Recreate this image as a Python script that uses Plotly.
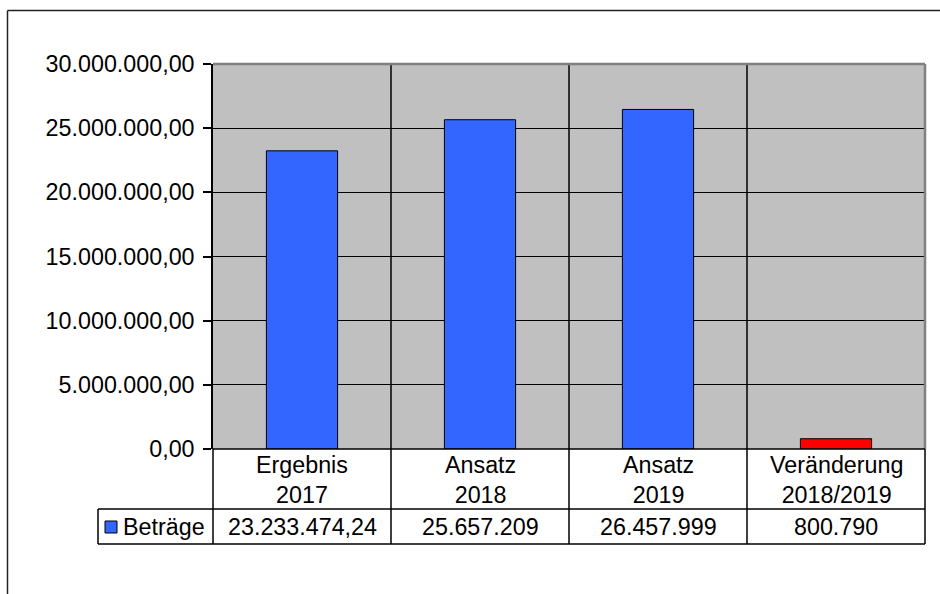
import plotly.graph_objects as go

# Chart data
categories = ["Ergebnis<br>2017", "Ansatz<br>2018", "Ansatz<br>2019", "Veränderung<br>2018/2019"]
betraege = [23233474.24, 25657209, 26457999, 800790]
bar_colors = ["#3366FF", "#3366FF", "#3366FF", "#FF0000"]
series_name = "Beträge"
y_ticks = [0, 5000000, 10000000, 15000000, 20000000, 25000000, 30000000]

W, H = 940, 594
ML, MR, MT, MB = 213, 15, 64, 145
PW = W - ML - MR
PH = H - MT - MB
FONT = "Liberation Sans, Arial, sans-serif"
FS = 23.3


def px2x(px):
    return (px - ML) / PW


def px2y(py):
    return (H - MB - py) / PH


def de_format(v):
    if abs(v - round(v)) > 1e-9:
        s = f"{v:,.2f}"
    else:
        s = f"{int(round(v)):,}"
    return s.replace(",", "X").replace(".", ",").replace("X", ".")


xs = list(range(len(categories)))

fig = go.Figure()
fig.add_trace(go.Bar(
    x=xs, y=betraege, width=0.4, name=series_name,
    marker=dict(color=bar_colors, line=dict(color="black", width=1)),
    showlegend=False, hoverinfo="skip",
))

row_sep = px2y(509)
table_bottom = px2y(544)
legend_left = px2x(98)

shapes = []
# category separators running through plot and table
for i in range(1, len(categories)):
    xb = i - 0.5
    shapes.append(dict(type="line", xref="x", yref="paper", x0=xb, x1=xb,
                       y0=table_bottom, y1=1, line=dict(color="black", width=1.5)))
# plot frame (gray top/right)
shapes.append(dict(type="line", xref="paper", yref="paper", x0=0, x1=1, y0=1, y1=1,
                   line=dict(color="#808080", width=2.5)))
shapes.append(dict(type="line", xref="paper", yref="paper", x0=1, x1=1, y0=0, y1=1,
                   line=dict(color="#808080", width=2.5)))
# table lines
shapes.append(dict(type="line", xref="paper", yref="paper", x0=0, x1=1, y0=0, y1=0,
                   line=dict(color="black", width=1.5)))
shapes.append(dict(type="line", xref="paper", yref="paper", x0=legend_left, x1=1, y0=row_sep, y1=row_sep,
                   line=dict(color="black", width=1.5)))
shapes.append(dict(type="line", xref="paper", yref="paper", x0=legend_left, x1=1, y0=table_bottom, y1=table_bottom,
                   line=dict(color="black", width=1.5)))
shapes.append(dict(type="line", xref="paper", yref="paper", x0=legend_left, x1=legend_left, y0=table_bottom, y1=row_sep,
                   line=dict(color="black", width=1.5)))
shapes.append(dict(type="line", xref="paper", yref="paper", x0=0, x1=0, y0=table_bottom, y1=0,
                   line=dict(color="black", width=1.5)))
shapes.append(dict(type="line", xref="paper", yref="paper", x0=1, x1=1, y0=table_bottom, y1=0,
                   line=dict(color="black", width=1.5)))
# legend key
shapes.append(dict(type="rect", xref="paper", yref="paper",
                   x0=px2x(105), x1=px2x(117), y0=px2y(533), y1=px2y(521),
                   fillcolor=bar_colors[0], line=dict(color="black", width=1)))
# outer chart border (top / left)
shapes.append(dict(type="line", xref="paper", yref="paper", x0=px2x(7.5), x1=px2x(945),
                   y0=px2y(10.5), y1=px2y(10.5), line=dict(color="#222", width=1.5)))
shapes.append(dict(type="line", xref="paper", yref="paper", x0=px2x(7.5), x1=px2x(7.5),
                   y0=px2y(600), y1=px2y(10.5), line=dict(color="#222", width=1.5)))

annotations = []
for i, (cat, val) in enumerate(zip(categories, betraege)):
    annotations.append(dict(x=i, y=px2y(480), xref="x", yref="paper", text=cat,
                            showarrow=False, font=dict(size=FS, color="black", family=FONT),
                            xanchor="center", yanchor="middle", align="center"))
    annotations.append(dict(x=i, y=px2y(527), xref="x", yref="paper", text=de_format(val),
                            showarrow=False, font=dict(size=FS, color="black", family=FONT),
                            xanchor="center", yanchor="middle"))
annotations.append(dict(x=px2x(121), y=px2y(527), xref="paper", yref="paper", text=series_name,
                        showarrow=False, font=dict(size=FS, color="black", family=FONT),
                        xanchor="left", yanchor="middle"))

fig.update_layout(
    width=W, height=H,
    margin=dict(l=ML, r=MR, t=MT, b=MB),
    paper_bgcolor="white", plot_bgcolor="#C0C0C0",
    separators=",.",
    font=dict(family=FONT, size=FS, color="black"),
    bargap=0.6,
    shapes=shapes, annotations=annotations,
    xaxis=dict(range=[-0.5, len(categories) - 0.5], showticklabels=False, showgrid=False,
               zeroline=False, showline=False, ticks=""),
    yaxis=dict(range=[0, 30000000], tickvals=y_ticks, tickformat=",.2f",
               showgrid=True, gridcolor="black", gridwidth=1,
               zeroline=False, showline=True, linecolor="black", linewidth=1.5,
               ticks="outside", ticklen=8, tickcolor="black", tickwidth=1.5,
               ticklabelstandoff=4,
               tickfont=dict(size=FS, family=FONT, color="black")),
)

fig.write_html("out.html")
